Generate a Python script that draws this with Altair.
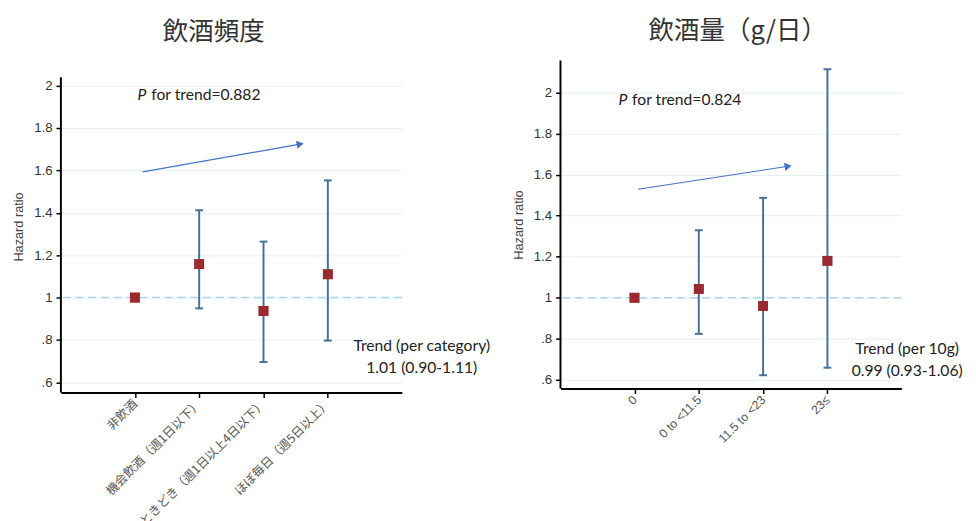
import altair as alt
import pandas as pd

# ---------------- data ----------------
freq_cats = ["非飲酒", "機会飲酒（週1日以下）", "ときどき（週1日以上4日以下）", "ほぼ毎日（週5日以上）"]
freq_hr = [1.00, 1.158, 0.937, 1.110]
freq_lo = [None, 0.949, 0.696, 0.797]
freq_hi = [None, 1.412, 1.264, 1.553]

amt_cats = ["0", "0 to <11.5", "11.5 to <23", "23≤"]
amt_hr = [1.00, 1.043, 0.960, 1.180]
amt_lo = [None, 0.824, 0.622, 0.659]
amt_hi = [None, 1.329, 1.487, 2.114]

freq_arrow_x = [0.12, 2.57]
freq_arrow_y = [1.593, 1.724]
amt_arrow_x = [0.056, 2.39]
amt_arrow_y = [1.529, 1.641]

freq_p = "for trend=0.882"
amt_p = "for trend=0.824"
freq_p_pos = [0.04, 1.957]
amt_p_pos = [-0.25, 1.965]

freq_trend = ["Trend (per category)", "1.01 (0.90-1.11)"]
freq_trend_x = 4.46
freq_trend_y = [0.771, 0.669]
amt_trend = ["Trend (per 10g)", "0.99 (0.93-1.06)"]
amt_trend_x = 4.24
amt_trend_y = [0.749, 0.643]

y_ticks = [0.6, 0.8, 1.0, 1.2, 1.4, 1.6, 1.8, 2.0]

MARKER = "#9b2a30"
BAR = "#44709a"
ARROW = "#4472c4"
GRID = "#e3f0f2"
REF = "#a8d6e8"
TXT_FONT = "Lato"
X_MIN, X_MAX = -1.15, 4.15


def panel(title, cats, hr, lo, hi, ydom, axis_top, height, ax, ay, ptxt, ppos,
          trend, tx, ty, toff, tdx, label_font, label_size):
    idx = list(range(len(cats)))
    label_expr = "[" + ",".join("'" + c + "'" for c in cats) + "][datum.value]"
    X = alt.X("x:Q", scale=alt.Scale(domain=[X_MIN, X_MAX], nice=False, zero=False),
              axis=alt.Axis(values=idx, labelExpr=label_expr, title=None, grid=False,
                            labelAngle=315, labelAlign="right", labelBaseline="middle",
                            labelFont=label_font, labelFontSize=label_size,
                            labelColor="#555", labelPadding=4, tickSize=5,
                            tickColor="black", tickWidth=1.5, domainColor="black",
                            domainWidth=2, labelLimit=400, labelOverlap=False,
                            labelFlush=False))
    Y = alt.Y("y:Q", scale=alt.Scale(domain=ydom, nice=False, zero=False),
              axis=alt.Axis(values=y_ticks, title="Hazard ratio",
                            labelExpr="replace(format(datum.value, '.1~f'), /^0/, '')",
                            grid=True, gridColor=GRID, gridWidth=1,
                            labelFont="Liberation Sans", labelFontSize=13.5,
                            labelColor="#333", tickSize=5, tickColor="black",
                            tickWidth=1.5, domain=False,
                            titleFont="Liberation Sans", titleFontSize=13,
                            titleFontWeight="normal", titleColor="#444",
                            titlePadding=8, labelPadding=4, labelFlush=False,
                            labelOverlap=False))

    pts = pd.DataFrame({"x": idx, "y": hr})
    ci = pd.DataFrame({"x": idx, "y": lo, "y2": hi}).dropna()
    caps = pd.concat([pd.DataFrame({"x": ci["x"], "y": ci["y"]}),
                      pd.DataFrame({"x": ci["x"], "y": ci["y2"]})])
    ref = pd.DataFrame({"y": [1.0]})
    yaxis_line = pd.DataFrame({"x": [X_MIN], "y": [ydom[0]], "y2": [axis_top]})
    arrow = pd.DataFrame({"x": ax, "y": ay, "o": [0, 1]})
    head = arrow.iloc[[1]]
    pdf = pd.DataFrame({"x": [ppos[0]], "y": [ppos[1]], "t": [ptxt]})
    tdf = pd.DataFrame({"x": [tx, tx], "y": ty, "t": trend})

    base_pts = alt.Chart(pts).mark_square(size=100, color=MARKER, opacity=1).encode(x=X, y=Y)
    axis_l = alt.Chart(yaxis_line).mark_rule(color="black", strokeWidth=2).encode(
        x="x:Q", y="y:Q", y2="y2:Q")
    ref_l = alt.Chart(ref).mark_rule(color=REF, strokeDash=[8, 5], strokeWidth=1.5).encode(y="y:Q")
    ci_l = alt.Chart(ci).mark_rule(color=BAR, strokeWidth=2).encode(x="x:Q", y="y:Q", y2="y2:Q")
    cap_l = alt.Chart(caps).mark_tick(color=BAR, orient="horizontal", size=8,
                                      thickness=2, opacity=1).encode(x="x:Q", y="y:Q")
    arr_l = alt.Chart(arrow).mark_line(color=ARROW, strokeWidth=1.2).encode(
        x="x:Q", y="y:Q", order="o:O")
    head_l = alt.Chart(head).mark_point(shape="triangle-right", size=70, filled=True,
                                        color=ARROW, opacity=1, angle=350).encode(x="x:Q", y="y:Q")
    p_l = alt.Chart(pdf).mark_text(text="P", fontStyle="italic", font=TXT_FONT, fontSize=16,
                                   align="left", baseline="middle", color="#222").encode(
        x="x:Q", y="y:Q")
    p2_l = alt.Chart(pdf).mark_text(font=TXT_FONT, fontSize=16, align="left", dx=14,
                                    baseline="middle", color="#222").encode(
        x="x:Q", y="y:Q", text="t:N")
    t_l = alt.Chart(tdf).mark_text(font=TXT_FONT, fontSize=16, align="center",
                                   baseline="middle", color="#222").encode(
        x="x:Q", y="y:Q", text="t:N")

    return alt.layer(base_pts, axis_l, ref_l, ci_l, cap_l, base_pts, arr_l, head_l,
                     p_l, p2_l, t_l).properties(
        width=348, height=height,
        title=alt.TitleParams(title, fontSize=26, font="Noto Sans CJK JP", fontWeight="normal",
                              color="#333", offset=toff, dx=tdx, anchor="middle"))


left = panel("飲酒頻度", freq_cats, freq_hr, freq_lo, freq_hi, [0.552, 2.119], 2.04, 339,
             freq_arrow_x, freq_arrow_y, freq_p, freq_p_pos,
             freq_trend, freq_trend_x, freq_trend_y, 16, -18, "Noto Sans CJK JP", 12.5)
right = panel("飲酒量（g/日）", amt_cats, amt_hr, amt_lo, amt_hi, [0.557, 2.157], 2.157, 335,
              amt_arrow_x, amt_arrow_y, amt_p, amt_p_pos,
              amt_trend, amt_trend_x, amt_trend_y, 16, 7, "Liberation Sans", 12.5)

chart = alt.hconcat(left, right, spacing=22).configure(
    background="white", view=alt.ViewConfig(stroke=None))

chart.save("out.html", embed_options={"renderer": "svg", "actions": False})
